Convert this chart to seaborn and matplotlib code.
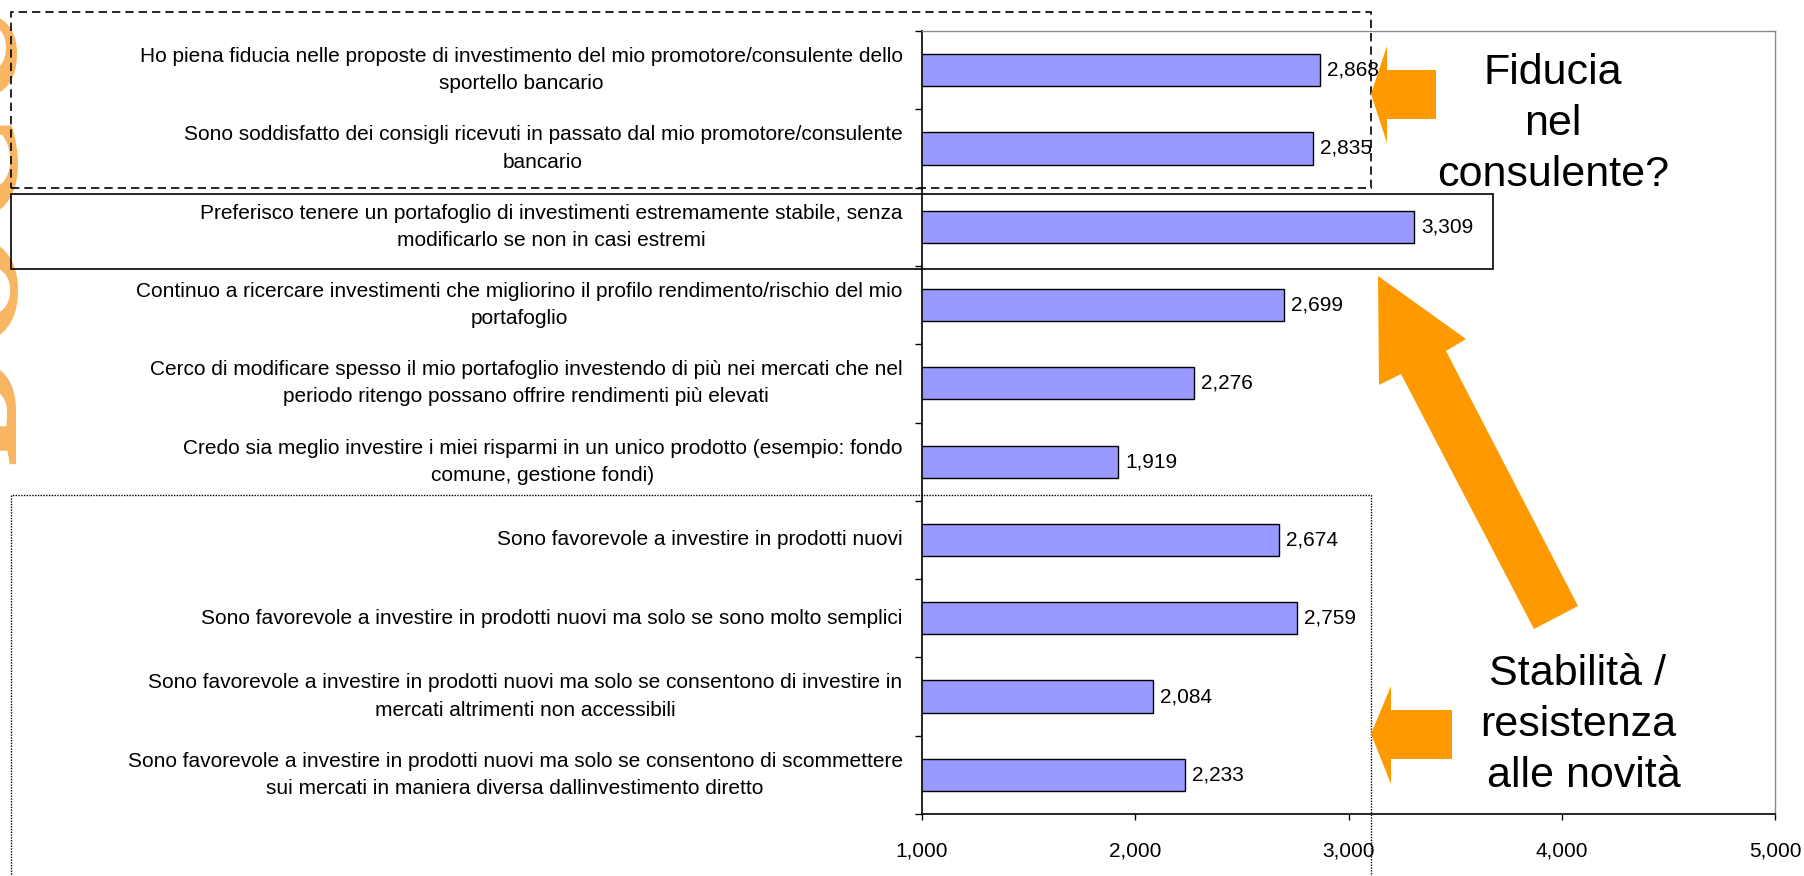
import matplotlib
matplotlib.use("Agg")
import matplotlib.pyplot as plt
from matplotlib.patches import Rectangle, Polygon
from matplotlib.lines import Line2D
from matplotlib.ticker import FuncFormatter
import seaborn as sns
import pandas as pd
import numpy as np


statements = [
	"Ho piena fiducia nelle proposte di investimento del mio promotore/consulente dello\nsportello bancario",
	"Sono soddisfatto dei consigli ricevuti in passato dal mio promotore/consulente\nbancario",
	"Preferisco tenere un portafoglio di investimenti estremamente stabile, senza\nmodificarlo se non in casi estremi",
	"Continuo a ricercare investimenti che migliorino il profilo rendimento/rischio del mio\nportafoglio",
	"Cerco di modificare spesso il mio portafoglio investendo di più nei mercati che nel\nperiodo ritengo possano offrire rendimenti più elevati",
	"Credo sia meglio investire i miei risparmi in un unico prodotto (esempio: fondo\ncomune, gestione fondi)",
	"Sono favorevole a investire in prodotti nuovi",
	"Sono favorevole a investire in prodotti nuovi ma solo se sono molto semplici",
	"Sono favorevole a investire in prodotti nuovi ma solo se consentono di investire in\nmercati altrimenti non accessibili",
	"Sono favorevole a investire in prodotti nuovi ma solo se consentono di scommettere\nsui mercati in maniera diversa dallinvestimento diretto",
]
scores = [2.868, 2.835, 3.309, 2.699, 2.276, 1.919, 2.674, 2.759, 2.084, 2.233]
x_ticks = [1, 2, 3, 4, 5]

top_note = "Fiducia\nnel\nconsulente?"
bottom_note = "Stabilità /\nresistenza\n alle novità"
watermark = "DOCUMENTO"

W, H = 1804, 876
ORANGE = "#FF9900"


def fx(x: float) -> float:
	return x / W


def fy(y: float) -> float:
	return 1 - y / H


def it_num(v, pos=None) -> str:
	# italian style decimals: 2.868 -> 2,868
	return f"{v:.3f}".replace(".", ",")


def main():
	sns.set_style("white")
	plt.rcParams["font.family"] = ["Liberation Sans", "DejaVu Sans"]
	plt.rcParams["text.color"] = "black"
	plt.rcParams["xtick.color"] = "black"
	plt.rcParams["ytick.color"] = "black"
	plt.rcParams["axes.labelcolor"] = "black"

	fig = plt.figure(figsize=(W / 100, H / 100), dpi=100)
	ax = fig.add_axes([fx(922), fy(814), fx(1775) - fx(922), fy(31) - fy(814)])

	df = pd.DataFrame({"statement": statements, "score": scores})
	sns.barplot(
		data=df,
		x="score",
		y="statement",
		orient="h",
		color="#9999FF",
		saturation=1,
		edgecolor="black",
		linewidth=1.0,
		width=0.41,
		ax=ax,
	)
	ax.bar_label(ax.containers[0], labels=[it_num(v) for v in scores], padding=5, fontsize=15)

	ax.set_xlim(1, 5)
	ax.set_ylim(len(statements) - 0.5, -0.5)
	ax.set_xticks(x_ticks)
	ax.xaxis.set_major_formatter(FuncFormatter(it_num))
	ax.set_yticks(np.arange(-0.5, len(statements), 1), minor=True)
	ax.set_xlabel("")
	ax.set_ylabel("")

	ax.tick_params(axis="x", which="major", bottom=True, direction="out", length=4.5,
		width=1, color="black", labelsize=15, pad=15.5)
	ax.tick_params(axis="y", which="major", left=False, length=0, labelsize=15, pad=14)
	ax.tick_params(axis="y", which="minor", left=True, direction="out", length=5,
		width=1, color="black")
	for lab in ax.get_yticklabels():
		lab.set_multialignment("center")
		lab.set_verticalalignment("center")
		lab.set_linespacing(1.55)

	for side in ["left", "bottom"]:
		ax.spines[side].set_color("black")
		ax.spines[side].set_linewidth(1.2)
	for side in ["top", "right"]:
		ax.spines[side].set_color("#8c8c8c")
		ax.spines[side].set_linewidth(1.0)

	# boxes around the groups of statements
	fig.add_artist(Rectangle((fx(11), fy(188)), fx(1371) - fx(11), fy(12) - fy(188),
		transform=fig.transFigure, fill=False, edgecolor="black", linewidth=1.2,
		linestyle=(0, (5, 3)), zorder=5))
	fig.add_artist(Rectangle((fx(11), fy(269)), fx(1493) - fx(11), fy(194) - fy(269),
		transform=fig.transFigure, fill=False, edgecolor="black", linewidth=1.2, zorder=5))
	fig.add_artist(Line2D([fx(11), fx(11), fx(1371), fx(1371)], [fy(880), fy(495), fy(495), fy(880)],
		transform=fig.transFigure, color="black", linewidth=1.0, linestyle=(0, (1, 1)), zorder=5))

	# orange block arrows
	arrows = [
		[(1371, 94), (1387, 46), (1387, 70), (1436, 70), (1436, 119), (1387, 119), (1387, 143)],
		[(1371, 734), (1391, 686), (1391, 710), (1452, 710), (1452, 759), (1391, 759), (1391, 784)],
		[(1378, 276), (1466, 339), (1446, 351), (1578, 606), (1534, 629), (1401, 374), (1379, 385)],
	]
	for pts in arrows:
		fig.add_artist(Polygon([(fx(x), fy(y)) for x, y in pts], closed=True,
			transform=fig.transFigure, facecolor=ORANGE, edgecolor="none", zorder=6))

	fig.text(fx(1553), fy(53), top_note, ha="center", va="top", fontsize=31,
		linespacing=1.35, multialignment="center")
	fig.text(fx(1578), fy(654), bottom_note, ha="center", va="top", fontsize=31,
		linespacing=1.35, multialignment="center")

	# watermark, mostly outside the left edge as in the slide
	fig.text(fx(48), fy(464), watermark, rotation=90, ha="right", va="bottom",
		fontsize=115, family="Liberation Serif", fontweight="bold", color="#F7A23A", alpha=0.8)

	fig.savefig("out.png", dpi=100)
	plt.close(fig)


if __name__ == "__main__":
	main()
